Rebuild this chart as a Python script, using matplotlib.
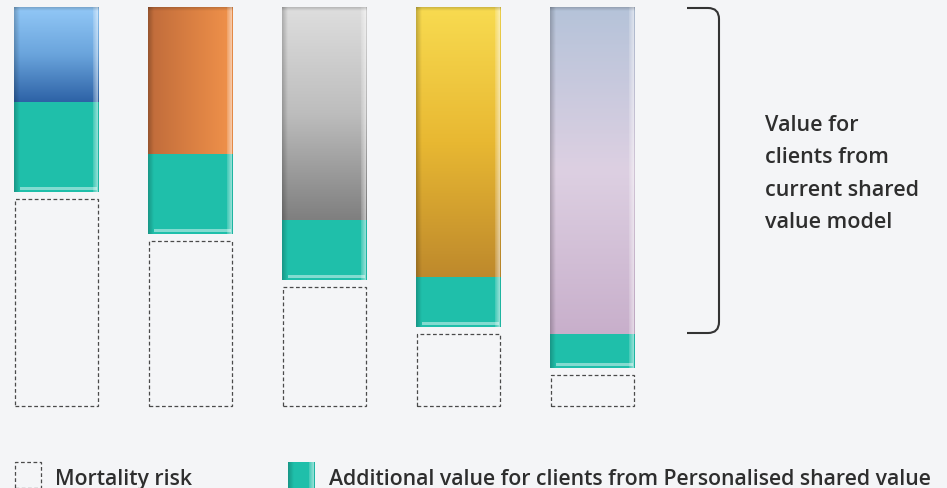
import numpy as np
import matplotlib
matplotlib.use("Agg")
import matplotlib.pyplot as plt
from matplotlib.patches import Rectangle
from matplotlib.path import Path
from matplotlib.patches import PathPatch
from matplotlib.colors import to_rgb

# ---------------- data ----------------
current_value = [95, 147, 213, 270, 327]      # value from current shared value model
additional_value = [90, 80, 60, 50, 34]       # additional value from personalised model
mortality_risk = [207, 165, 119, 72, 31]      # mortality risk (dashed boxes)
bracket_label = "Value for\nclients from\ncurrent shared\nvalue model"
legend_labels = ["Mortality risk", "Additional value for clients from Personalised shared value"]

# top-segment colour gradients (top -> bottom, or left -> right for 'h')
gradients = [
    (["#92c8f7", "#6aa4dc", "#2d62a6"], "v"),
    (["#bf6b3b", "#d97f42", "#f1924b"], "h"),
    (["#dedede", "#bdbdbd", "#7f7f7f"], "v"),
    (["#f8db50", "#e8b832", "#be892c"], "v"),
    (["#b5c3d9", "#ddd0e2", "#c8afcb"], "v"),
]
TEAL = "#1fbfaa"
BG = "#f4f5f7"
TXT = "#2e2e2e"

# ---------------- layout ----------------
W, H = 947, 489
fig = plt.figure(figsize=(W / 100, H / 100), dpi=100, facecolor=BG)
ax = fig.add_axes([0, 0, 1, 1])
ax.set_facecolor(BG)
ax.set_xlim(0, W)
ax.set_ylim(-82, 407)
ax.axis("off")

bar_left0 = 14
spacing = 134
bar_w = 85
gap = 7


def grad_img(colors, direction, n=256):
    cols = np.array([to_rgb(c) for c in colors])
    t = np.linspace(0, 1, n)
    pos = np.linspace(0, 1, len(cols))
    rgb = np.stack([np.interp(t, pos, cols[:, k]) for k in range(3)], axis=-1)
    if direction == "v":
        return rgb[:, None, :]
    return rgb[None, :, :]


def overlay(x0, x1, y0, y1, color, a0, a1, direction="h"):
    """alpha gradient overlay: a0 at left/top -> a1 at right/bottom."""
    n = 32
    rgb = np.array(to_rgb(color))
    alpha = np.linspace(a0, a1, n)
    img = np.zeros((1, n, 4)) if direction == "h" else np.zeros((n, 1, 4))
    img[..., :3] = rgb
    if direction == "h":
        img[0, :, 3] = alpha
    else:
        img[:, 0, 3] = alpha
    ax.imshow(img, extent=(x0, x1, y0, y1), origin="upper", aspect="auto",
              interpolation="bilinear", zorder=4)


def gloss(x0, x1, y0, y1, bottom_line=False, top_shade=False):
    # left darker edge
    overlay(x0, x0 + 6, y0, y1, "black", 0.22, 0.0, "h")
    # right highlight
    overlay(x1 - 6, x1 - 1.5, y0, y1, "white", 0.15, 0.55, "h")
    ax.add_patch(Rectangle((x1 - 1.5, y0), 1.5, y1 - y0, color="black", alpha=0.05, lw=0, zorder=4))
    if top_shade:
        overlay(x0, x1, y1 - 4, y1, "black", 0.18, 0.0, "v")
    if bottom_line:
        ax.add_patch(Rectangle((x0 + 6, y0 + 2), x1 - x0 - 8, 3, color="white", alpha=0.45, lw=0, zorder=4))


for i in range(len(current_value)):
    x0 = bar_left0 + i * spacing
    x1 = x0 + bar_w
    m = mortality_risk[i]
    a = additional_value[i]
    c = current_value[i]
    # mortality dashed box
    ax.add_patch(Rectangle((x0 + 0.5, 0), bar_w - 1.5, m, fill=False, ec="#4a4a4a",
                           lw=0.9, ls=(0, (3, 2)), zorder=3))
    # additional value (teal)
    ya = m + gap
    ax.add_patch(Rectangle((x0, ya), bar_w, a, color=TEAL, lw=0, zorder=3))
    gloss(x0, x1, ya, ya + a, bottom_line=True)
    # current value (gradient)
    yc = ya + a
    cols, d = gradients[i]
    ax.imshow(grad_img(cols, d), extent=(x0, x1, yc, yc + c), origin="upper",
              aspect="auto", interpolation="bilinear", zorder=3)
    gloss(x0, x1, yc, yc + c, top_shade=True)

# bracket
top_y = max(m + gap + a + c for m, a, c in zip(mortality_risk, additional_value, current_value)) - 1
bot_y = mortality_risk[-1] + gap + additional_value[-1] + 1
bx0, bx1, r = 687, 719, 11
verts = [(bx0, top_y), (bx1 - r, top_y), (bx1, top_y), (bx1, top_y - r),
         (bx1, bot_y + r), (bx1, bot_y), (bx1 - r, bot_y), (bx0, bot_y)]
codes = [Path.MOVETO, Path.LINETO, Path.CURVE3, Path.CURVE3,
         Path.LINETO, Path.CURVE3, Path.CURVE3, Path.LINETO]
ax.add_patch(PathPatch(Path(verts, codes), fill=False, ec="#333333", lw=1.5, zorder=5))

font = dict(family=["Open Sans", "DejaVu Sans"], weight="semibold", color=TXT)
ax.text(765, 407 - 174, bracket_label, fontsize=15.5, va="center", ha="left",
        linespacing=1.72, **font)

# legend
ly0, ly1 = -82, 407 - 463
ax.add_patch(Rectangle((14.5, ly0), 26, ly1 - ly0, fill=False, ec="#4a4a4a",
                       lw=0.9, ls=(0, (3, 2)), zorder=3, clip_on=False))
ax.text(55, 407 - 485, legend_labels[0], fontsize=15.3, va="baseline", ha="left", **font)
ax.add_patch(Rectangle((288, ly0), 27, ly1 - ly0, color=TEAL, lw=0, zorder=3))
gloss(288, 315, ly0, ly1)
ax.text(329, 407 - 485, legend_labels[1], fontsize=15.35, va="baseline", ha="left", **font)

fig.savefig("out.png", dpi=100, facecolor=BG)
